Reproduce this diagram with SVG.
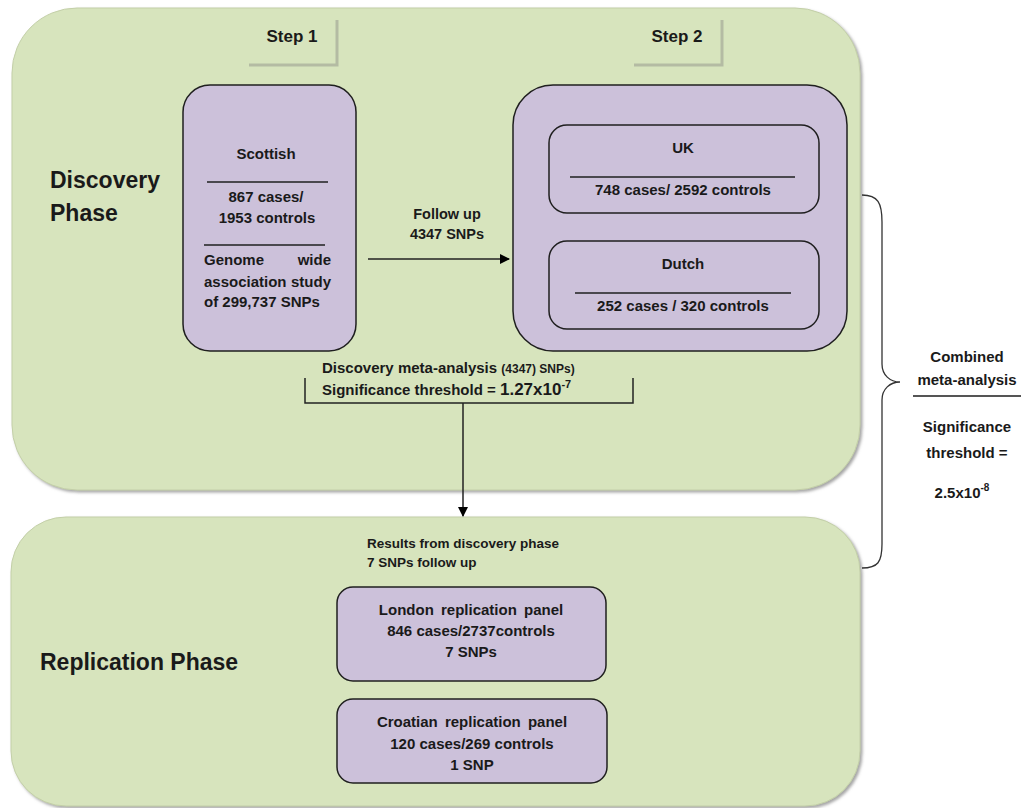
<svg xmlns="http://www.w3.org/2000/svg" width="1021" height="808" viewBox="0 0 1021 808">
<defs>
<filter id="sh" x="-5%" y="-5%" width="110%" height="110%">
<feDropShadow dx="2" dy="2" stdDeviation="1.5" flood-color="#7f7f7f" flood-opacity="0.7"/>
</filter>
<marker id="ah" markerWidth="10" markerHeight="10" refX="9" refY="5" orient="auto" markerUnits="userSpaceOnUse">
<path d="M0,0 L10,5 L0,10 z" fill="#000"/>
</marker>
</defs>
<style>
text{font-family:"Liberation Sans",Arial,sans-serif;font-weight:bold;fill:#1a1a1a}
.panel{fill:#d7e4bd;stroke:#c3cfa8;stroke-width:1}
.box{fill:#ccc1da;stroke:#1f1f1f;stroke-width:1.5}
.sep{stroke:#1f1f1f;stroke-width:1.3}
.t15{font-size:15px}
.c{text-anchor:middle}
.big{font-size:23px}
.tab{stroke:#b4bba3;stroke-width:3;fill:none}
.ln{stroke:#222;stroke-width:1.5;fill:none}
</style>

<g id="discovery-phase">
<rect class="panel" x="12" y="8" width="848" height="482" rx="65" filter="url(#sh)"/>
<text class="big" x="50" y="188">Discovery</text>
<text class="big" x="50" y="221">Phase</text>
</g>

<g id="replication-phase">
<rect class="panel" x="11" y="517" width="849" height="289" rx="55" filter="url(#sh)"/>
<text class="big" x="40" y="670">Replication Phase</text>
</g>

<g id="step1">
<path class="tab" d="M249,65 L337,65 L337,20"/>
<text class="c" x="292" y="42" font-size="17">Step 1</text>
</g>

<g id="step2">
<path class="tab" d="M634,65 L722,65 L722,20"/>
<text class="c" x="677" y="42" font-size="17">Step 2</text>
</g>

<g id="scottish">
<rect class="box" x="183" y="85" width="173" height="266" rx="27"/>
<text class="t15 c" x="266" y="159">Scottish</text>
<line class="sep" x1="207" y1="182" x2="328" y2="182"/>
<text class="t15 c" x="266" y="202">867 cases/</text>
<text class="t15 c" x="267" y="223">1953 controls</text>
<line class="sep" x1="204" y1="245" x2="325" y2="245"/>
<text class="t15" x="204" y="265">Genome</text>
<text class="t15" x="331" y="265" text-anchor="end">wide</text>
<text class="t15" x="204" y="287">association</text>
<text class="t15" x="331" y="287" text-anchor="end">study</text>
<text class="t15" x="204" y="307">of 299,737 SNPs</text>
</g>

<g id="step2-group">
<rect class="box" x="513" y="85" width="334" height="266" rx="40"/>
</g>

<g id="uk">
<rect class="box" x="549" y="125" width="270" height="88" rx="18"/>
<text class="t15 c" x="683" y="153">UK</text>
<line class="sep" x1="570" y1="177" x2="795" y2="177"/>
<text class="t15 c" x="683" y="195">748 cases/ 2592 controls</text>
</g>

<g id="dutch">
<rect class="box" x="549" y="241" width="270" height="88" rx="18"/>
<text class="t15 c" x="683" y="269">Dutch</text>
<line class="sep" x1="575" y1="293" x2="791" y2="293"/>
<text class="t15 c" x="683" y="311">252 cases / 320 controls</text>
</g>

<g id="london">
<rect class="box" x="337" y="587" width="269" height="94" rx="16"/>
<text class="t15 c" x="471" y="615" word-spacing="3">London replication panel</text>
<text class="t15 c" x="471" y="636">846 cases/2737controls</text>
<text class="t15 c" x="471" y="657">7 SNPs</text>
</g>

<g id="croatian">
<rect class="box" x="337" y="699" width="270" height="84" rx="16"/>
<text class="t15 c" x="472" y="727" word-spacing="3">Croatian replication panel</text>
<text class="t15 c" x="472" y="749">120 cases/269 controls</text>
<text class="t15 c" x="472" y="770">1 SNP</text>
</g>

<g id="discovery-meta">
<text class="t15" x="322" y="373">Discovery meta-analysis <tspan font-size="12">(4347) SNPs)</tspan></text>
<text class="t15" x="322" y="395">Significance threshold = <tspan font-size="17">1.27x10</tspan><tspan font-size="11" dy="-7">-7</tspan></text>
</g>

<g id="results-label">
<text x="367" y="548" font-size="13.5">Results from discovery phase</text>
<text x="367" y="567" font-size="13.5">7 SNPs follow up</text>
</g>

<g id="combined-meta">
<text class="t15 c" x="967" y="362">Combined</text>
<text class="t15 c" x="967" y="385">meta-analysis</text>
<line x1="913" y1="396" x2="1021" y2="396" stroke="#555" stroke-width="2"/>
<text class="t15 c" x="967" y="432">Significance</text>
<text class="t15 c" x="967" y="458">threshold  =</text>
<text class="t15 c" x="962" y="498">2.5x10<tspan font-size="10" dy="-7">-8</tspan></text>
</g>

<g id="connectors">
<line class="ln" x1="368" y1="259" x2="509" y2="259" marker-end="url(#ah)"/>
<text class="c" x="447" y="219" font-size="14.5">Follow up</text>
<text class="c" x="447" y="239" font-size="14.5">4347 SNPs</text>
<path class="ln" d="M305,378 L305,403 L633,403 L633,378"/>
<line class="ln" x1="463" y1="403" x2="463" y2="516" marker-end="url(#ah)"/>
<path d="M862,195 C878,195 882,203 882,222 L882,364 C882,375 890,382 900,382 C890,382 882,389 882,400 L882,544 C882,562 878,568 862,568" fill="none" stroke="#333" stroke-width="1.3"/>
</g>
</svg>
